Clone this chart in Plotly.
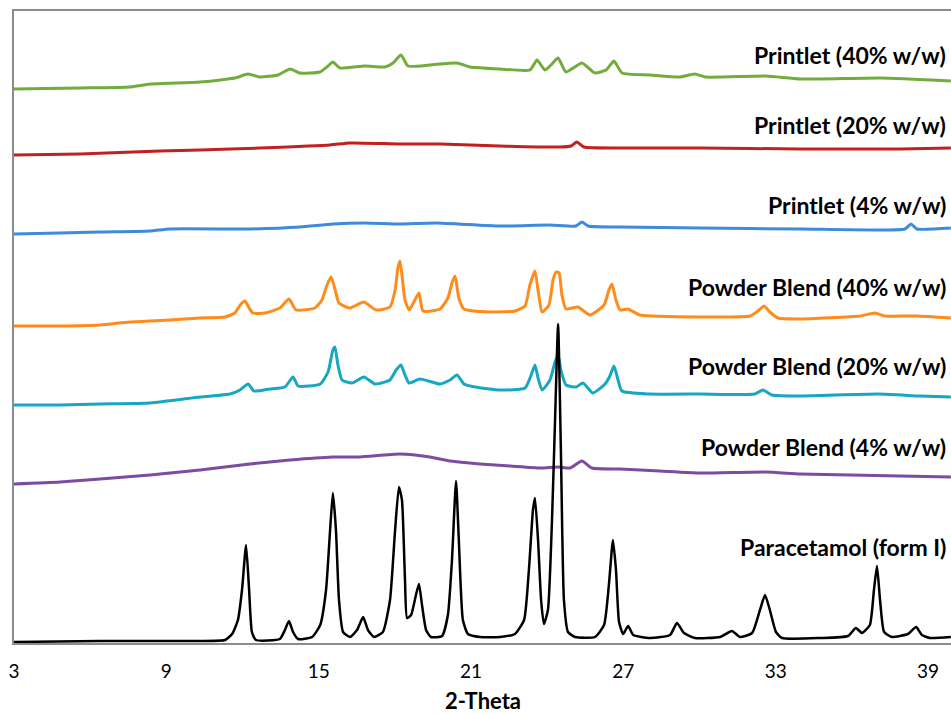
import plotly.graph_objects as go

# ---------------- data (2-theta in degrees, intensity in arbitrary units) ----------------
series_names = [
    "Printlet (40% w/w)", "Printlet (20% w/w)", "Printlet (4% w/w)",
    "Powder Blend (40% w/w)", "Powder Blend (20% w/w)", "Powder Blend (4% w/w)",
    "Paracetamol (form I)",
]
series_colors = ["#72AC3C", "#C0201F", "#3D8BDA", "#FF8C1A", "#17A7C2", "#7D4BA0", "#000000"]
series_offsets = [554, 488, 409, 317, 238, 159, 0]

printlet40_x = [3.0, 5.60, 7.57, 8.36, 10.33, 11.70, 12.22, 12.69, 13.40, 13.87, 14.26, 15.05, 15.37, 15.56,
                15.84, 16.82, 17.61, 17.93, 18.24, 18.52, 19.38, 20.45, 20.96, 22.14, 23.32, 23.60, 23.91,
                24.15, 24.43, 24.74, 25.37, 25.88, 26.32, 26.63, 26.95, 28.05, 29.23, 29.82, 30.22, 32.62,
                33.96, 37.11, 39.90]
printlet40_y = [0, 1, 2, 5, 7, 11, 15, 12, 14, 20, 16, 17, 23, 27,
                21, 23, 22, 26, 34, 23, 24, 26, 22, 20, 19, 29, 19,
                24, 31, 17, 26, 16, 19, 28, 16, 14, 12, 15, 12, 13,
                10, 11, 8]

printlet20_x = [3.0, 5.60, 8.75, 10.33, 12.69, 15.45, 16.23, 18.20, 19.78, 22.14, 24.50, 24.94, 25.17, 25.45,
                26.87, 30.02, 33.96, 37.90, 39.90]
printlet20_y = [0, 1, 4, 5, 7, 10, 12, 11, 11, 9, 8, 9, 13, 8,
                7, 7, 6, 6, 7]

printlet4_x = [3.0, 4.81, 6.39, 8.36, 9.14, 12.29, 14.26, 15.56, 16.82, 18.20, 19.62, 22.14, 24.11, 25.13,
               25.37, 25.61, 26.87, 30.02, 33.96, 38.09, 38.33, 38.56, 39.90]
printlet4_y = [0, 1, 2, 3, 5, 5, 7, 10, 11, 10, 11, 8, 9, 8,
               12, 8, 7, 6, 5, 5, 10, 5, 6]

blend40_x = [3.0, 4.81, 6.39, 7.57, 9.14, 10.33, 11.31, 11.70, 11.94, 12.10, 12.26, 12.41, 12.89, 13.47,
             13.83, 14.11, 14.85, 15.13, 15.33, 15.49, 15.65, 15.80, 16.23, 16.78, 17.26, 17.81, 18.01,
             18.12, 18.20, 18.28, 18.40, 18.56, 18.75, 18.95, 19.11, 19.78, 20.09, 20.25, 20.37, 20.52,
             20.72, 21.75, 22.73, 23.13, 23.32, 23.52, 23.64, 23.80, 24.07, 24.23, 24.35, 24.47, 24.58,
             24.74, 25.21, 25.69, 26.24, 26.43, 26.55, 26.71, 26.87, 27.18, 27.66, 30.02, 31.99, 32.30,
             32.54, 32.77, 33.09, 33.96, 36.32, 36.91, 37.30, 38.53, 39.90]
blend40_y = [0, 0, 1, 4, 6, 8, 9, 13, 22, 25, 18, 13, 13, 18,
             27, 16, 18, 26, 41, 49, 36, 23, 18, 24, 16, 19, 36,
             58, 65, 51, 26, 16, 24, 33, 15, 17, 28, 43, 50, 28,
             17, 14, 15, 20, 41, 55, 36, 14, 21, 46, 54, 53, 31,
             17, 19, 11, 21, 36, 42, 26, 16, 17, 11, 9, 10, 15,
             20, 14, 8, 7, 10, 13, 10, 10, 8]

blend20_x = [3.0, 4.81, 6.39, 8.36, 10.33, 11.51, 11.90, 12.22, 12.45, 13.08, 13.67, 13.99, 14.19, 15.06,
             15.37, 15.56, 15.64, 15.76, 15.92, 16.31, 16.78, 17.22, 17.81, 18.05, 18.24, 18.40, 18.56,
             18.99, 19.78, 20.17, 20.45, 20.72, 21.16, 22.14, 23.13, 23.37, 23.52, 23.64, 23.80, 24.11,
             24.31, 24.43, 24.54, 24.74, 25.14, 25.41, 25.80, 26.28, 26.47, 26.63, 26.79, 26.94, 28.05,
             30.02, 32.18, 32.50, 32.85, 33.96, 37.03, 38.68, 39.90]
blend20_y = [0, 0, 1, 2, 8, 11, 15, 21, 14, 16, 18, 28, 19, 21,
             33, 55, 58, 40, 25, 22, 28, 21, 25, 35, 40, 30, 22,
             26, 21, 25, 30, 21, 18, 15, 17, 30, 40, 27, 15, 25,
             43, 50, 35, 20, 18, 22, 12, 21, 29, 39, 25, 14, 11,
             11, 11, 15, 10, 9, 11, 9, 8]

blend4_x = [3.0, 4.81, 6.39, 8.36, 10.33, 12.29, 13.87, 15.56, 16.63, 18.20, 19.38, 20.17, 21.35, 22.54,
            23.72, 24.43, 24.90, 25.37, 25.76, 26.87, 28.44, 30.02, 32.62, 33.96, 35.93, 37.90, 39.90]
blend4_y = [0, 2, 5, 9, 14, 20, 24, 27, 27, 30, 27, 23, 20, 18,
            16, 17, 16, 23, 16, 15, 13, 11, 12, 10, 9, 8, 7]

paracetamol_x = [3.0, 6.39, 9.0, 10.33, 11.31, 11.59, 11.82, 11.98, 12.14, 12.26, 12.37, 12.53, 13.47, 13.67,
                 13.83, 13.99, 14.19, 14.74, 15.06, 15.29, 15.45, 15.56, 15.68, 15.80, 15.96, 16.23, 16.51,
                 16.75, 16.94, 17.18, 17.53, 17.81, 18.01, 18.16, 18.28, 18.40, 18.48, 18.64, 18.83, 18.95,
                 19.07, 19.23, 19.42, 19.86, 20.09, 20.25, 20.41, 20.52, 20.68, 20.88, 21.35, 22.14, 22.73,
                 23.09, 23.28, 23.44, 23.52, 23.64, 23.76, 23.87, 24.03, 24.19, 24.31, 24.43, 24.54, 24.66,
                 24.82, 25.10, 25.88, 26.24, 26.43, 26.59, 26.71, 26.83, 26.99, 27.19, 27.39, 28.05, 28.84,
                 29.11, 29.39, 29.82, 30.81, 31.28, 31.59, 32.07, 32.38, 32.58, 32.77, 33.01, 33.25, 34.74,
                 35.85, 36.16, 36.40, 36.71, 36.87, 36.99, 37.11, 37.27, 37.58, 38.21, 38.53, 38.76, 39.08,
                 39.90]
paracetamol_y = [1, 2, 2, 2, 3, 9, 23, 53, 98, 53, 11, 3, 4, 13,
                 22, 11, 4, 6, 18, 53, 113, 150, 113, 43, 11, 6, 13,
                 26, 13, 6, 11, 43, 113, 156, 143, 63, 25, 28, 48, 59,
                 38, 13, 6, 7, 28, 83, 162, 103, 23, 9, 6, 6, 9,
                 23, 73, 133, 145, 103, 43, 19, 33, 123, 223, 319, 193, 43,
                 11, 6, 6, 18, 58, 103, 73, 21, 9, 17, 8, 5, 8,
                 20, 10, 5, 6, 12, 6, 10, 33, 48, 33, 11, 5, 5,
                 7, 15, 10, 18, 53, 77, 43, 11, 6, 9, 16, 8, 5,
                 6]

label_positions = [588, 518, 438, 356, 277, 196, 96]

x_ticks = [3, 9, 15, 21, 27, 33, 39]
x_title = "2-Theta"

series_x = [printlet40_x, printlet20_x, printlet4_x, blend40_x, blend20_x, blend4_x, paracetamol_x]
series_y = [printlet40_y, printlet20_y, printlet4_y, blend40_y, blend20_y, blend4_y, paracetamol_y]

# ---------------- figure ----------------
fig = go.Figure()
for name, xs, ys, off, col in zip(series_names, series_x, series_y, series_offsets, series_colors):
    fig.add_trace(go.Scatter(
        x=xs, y=[v + off for v in ys], mode="lines", name=name,
        line=dict(color=col, width=2.5 if col == "#000000" else 3, shape="spline", smoothing=0.5),
        hoverinfo="skip", showlegend=False,
    ))

for name, ypos in zip(series_names, label_positions):
    fig.add_annotation(
        x=0.997, xref="paper", y=ypos, yref="y", text="<b>%s</b>" % name,
        showarrow=False, xanchor="right", yanchor="middle",
        font=dict(family="Lato", size=23, color="#000000"),
    )

# axis title as a paper-anchored annotation below the tick labels
fig.add_annotation(
    x=0.5, xref="paper", y=-0.0915, yref="paper", text="<b>%s</b>" % x_title,
    showarrow=False, xanchor="center", yanchor="middle",
    font=dict(family="Lato", size=22, color="#000000"),
)

fig.update_layout(
    width=951, height=714,
    margin=dict(l=14, r=0, t=11, b=71, autoexpand=False),
    paper_bgcolor="white", plot_bgcolor="white",
    font=dict(family="Lato", color="#000000"),
    xaxis=dict(
        range=[3, 39.905], tickvals=x_ticks, ticktext=[str(t) for t in x_ticks],
        showgrid=False, zeroline=False, showline=True, linecolor="#8c8c8c", linewidth=1.5,
        mirror=True, ticks="outside", ticklen=10, tickcolor="rgba(0,0,0,0)",
        tickfont=dict(family="Lato", size=19, color="#000000"), automargin=False,
    ),
    yaxis=dict(
        range=[0, 632], showgrid=False, zeroline=False, showticklabels=False,
        showline=True, linecolor="#8c8c8c", linewidth=1.5, ticks="", automargin=False,
    ),
)

fig.write_html(
    "out.html",
    config={"displayModeBar": False},
    post_script="document.body.style.margin='0';document.body.style.padding='0';document.body.style.overflow='hidden';",
)
